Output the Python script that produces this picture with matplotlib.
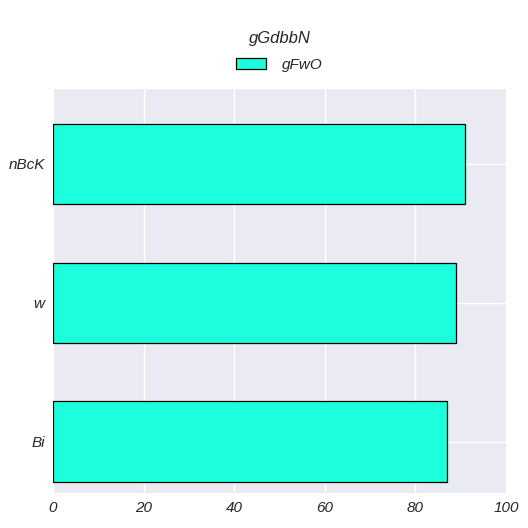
import matplotlib
matplotlib.use("Agg")
import matplotlib.pyplot as plt
import seaborn as sns

categories = ["Bi", "w", "nBcK"]
values = [87, 89, 91]
series_name = "gFwO"
title = "gGdbbN"
xticks = [0, 20, 40, 60, 80, 100]

sns.set_style("darkgrid")
plt.rcParams['font.family'] = ['Liberation Sans', 'DejaVu Sans']
plt.rcParams['font.style'] = 'italic'

fig = plt.figure(figsize=(5.28, 5.28), dpi=100)
ax = fig.add_axes([53/528, 1-493/528, (506-53)/528, (493-89)/528])
ax.set_facecolor('#eaeaf2')
ax.barh(range(len(categories)), values, height=0.58, color='#1cffdc',
        edgecolor='black', linewidth=0.9, label=series_name, zorder=2)
ax.set_yticks(range(len(categories)))
ax.set_yticklabels(categories, fontsize=11, style='italic')
ax.set_xticks(xticks)
ax.set_xticklabels([str(t) for t in xticks], fontsize=11, style='italic')
ax.set_xlim(0, 100)
ax.set_ylim(-0.37, 2.54)
ax.tick_params(length=0, pad=6, colors='#262626')
ax.grid(True, color='white', linewidth=1)
for s in ax.spines.values():
    s.set_visible(False)

cx = (53 + 506) / 2 / 528
fig.text(cx, 1-38/528, title, ha='center', va='center', fontsize=12, style='italic', color='#262626')
fig.legend(loc='center', bbox_to_anchor=(cx, 1-65/528), frameon=False,
           prop={'size': 11, 'style': 'italic'}, handlelength=2.0, handleheight=0.78,
           handletextpad=1.05)

fig.savefig("out.png", dpi=100)
